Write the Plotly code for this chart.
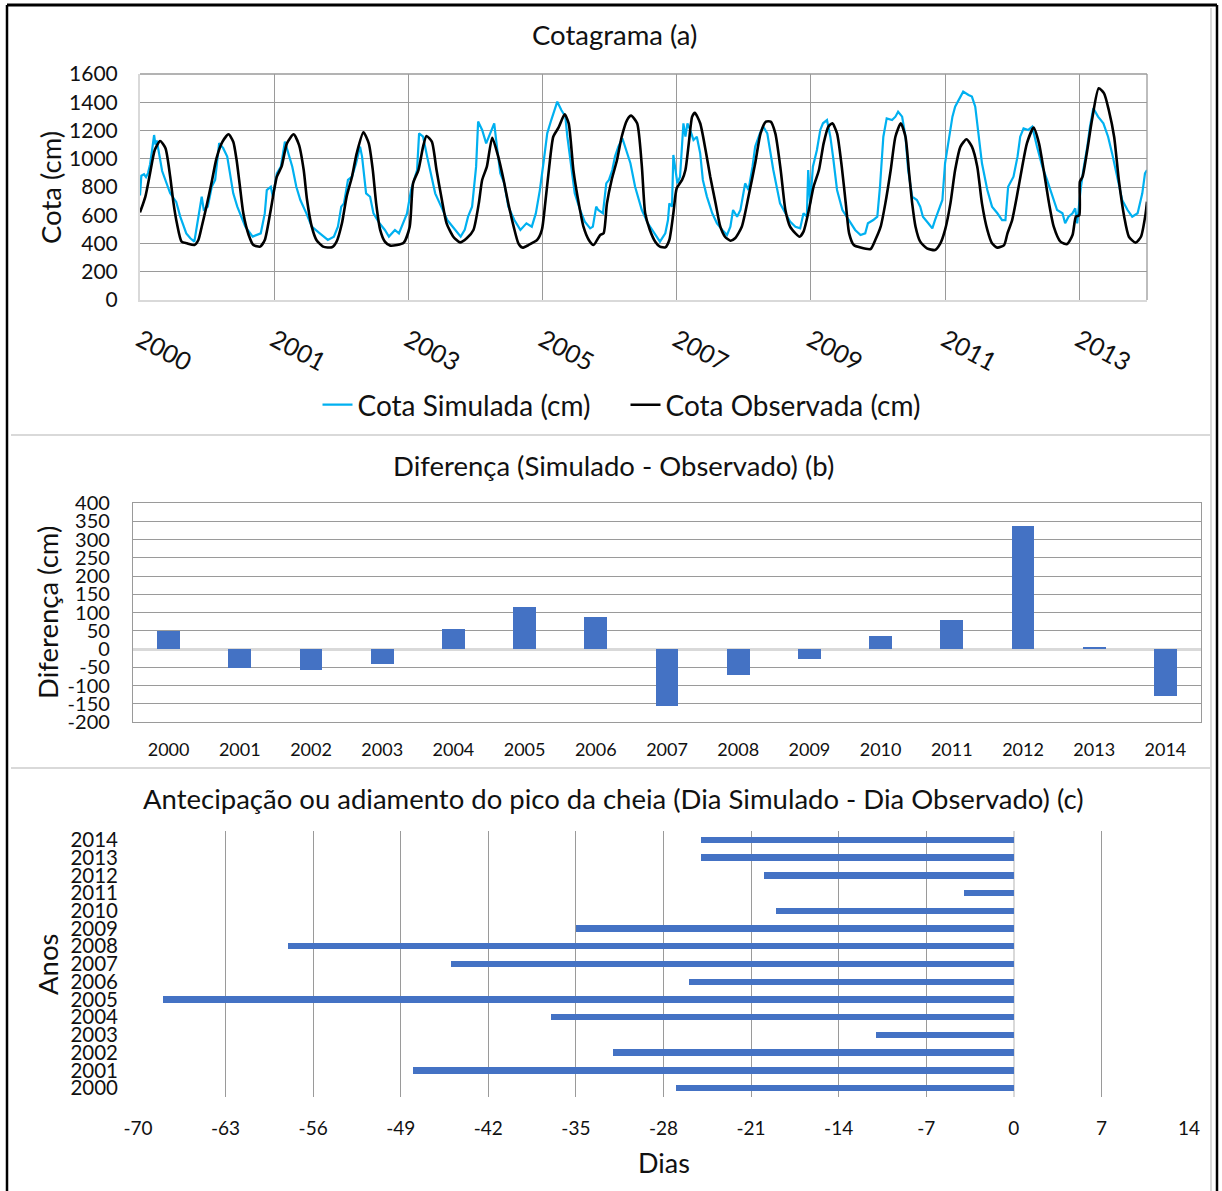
import plotly.graph_objects as go

# ---------------- DATA ----------------
# Panel (a): time in years since start of record (gridlines every 2 years)
x_tickvals_a = [0, 2, 4, 6, 8, 10, 12, 14]
x_ticktext_a = ["2000", "2001", "2003", "2005", "2007", "2009", "2011", "2013"]

t_sim = [0.00, 0.02, 0.06, 0.09, 0.12, 0.15, 0.18, 0.21, 0.23, 0.25, 0.33, 0.45, 0.54, 0.60, 0.69, 0.75, 0.81, 0.86, 0.92, 0.95,
         1.01, 1.07, 1.12, 1.18, 1.24, 1.30, 1.33, 1.39, 1.45, 1.57, 1.68, 1.80, 1.86, 1.89, 1.95, 1.98,
         2.04, 2.10, 2.16, 2.21, 2.27, 2.33, 2.39, 2.48, 2.56, 2.68, 2.80, 2.89, 2.95,
         3.00, 3.04, 3.10, 3.16, 3.22, 3.28, 3.31, 3.37, 3.43, 3.48, 3.57, 3.65, 3.71, 3.80, 3.86, 3.92, 3.98,
         4.04, 4.13, 4.16, 4.22, 4.28, 4.34, 4.40, 4.49, 4.58, 4.70, 4.78, 4.84, 4.89, 4.95,
         5.01, 5.04, 5.10, 5.16, 5.22, 5.28, 5.32, 5.37, 5.43, 5.49, 5.58, 5.67, 5.76, 5.84, 5.90, 5.96,
         6.02, 6.07, 6.13, 6.22, 6.28, 6.34, 6.37, 6.44, 6.48, 6.56, 6.63, 6.71, 6.75, 6.80, 6.83, 6.90, 6.95, 6.99,
         7.04, 7.08, 7.13, 7.19, 7.23, 7.31, 7.38, 7.48, 7.57, 7.68, 7.75, 7.83, 7.87, 7.89, 7.93, 7.95, 7.98,
         8.01, 8.05, 8.10, 8.13, 8.16, 8.20, 8.25, 8.30, 8.35, 8.39, 8.45, 8.53, 8.60, 8.68, 8.75, 8.80, 8.84, 8.90, 8.95,
         9.02, 9.07, 9.13, 9.17, 9.24, 9.29, 9.35, 9.39, 9.44, 9.50, 9.54, 9.62, 9.69, 9.77, 9.84, 9.89, 9.94, 9.96, 9.99,
         10.03, 10.09, 10.14, 10.18, 10.24, 10.29, 10.33, 10.39, 10.47, 10.56, 10.66, 10.74, 10.81, 10.85, 10.93, 10.99,
         11.03, 11.08, 11.13, 11.21, 11.26, 11.30, 11.36, 11.41, 11.45, 11.51, 11.58, 11.63, 11.67, 11.75, 11.81, 11.85, 11.90, 11.96,
         12.00, 12.05, 12.11, 12.15, 12.23, 12.27, 12.35, 12.40, 12.45, 12.49, 12.55, 12.63, 12.70, 12.78, 12.85, 12.90, 12.94,
         13.02, 13.08, 13.12, 13.17, 13.24, 13.30, 13.37, 13.45, 13.52, 13.60, 13.67, 13.75, 13.79, 13.84, 13.90, 13.94, 13.97,
         14.02, 14.06, 14.12, 14.16, 14.21, 14.28, 14.36, 14.43, 14.49, 14.57, 14.64, 14.72, 14.79, 14.87, 14.94, 14.98, 15.01]
cota_sim = [740, 880, 890, 870, 900, 960, 1060, 1168, 1100, 1130, 913, 755, 694, 590, 472, 437, 413, 566, 731, 640,
            661, 802, 850, 1110, 1075, 1015, 920, 755, 661, 519, 449, 472, 613, 778, 802, 731,
            897, 944, 1121, 1038, 944, 802, 708, 613, 519, 472, 425, 448, 519,
            661, 684, 850, 873, 967, 1086, 1015, 755, 731, 613, 543, 496, 449, 496, 472, 543, 613,
            778, 920, 1180, 1156, 1015, 873, 755, 661, 566, 496, 449, 496, 590, 661,
            944, 1263, 1204, 1109, 1180, 1251, 1086, 897, 826, 661, 566, 496, 543, 519, 613, 778,
            991, 1180, 1274, 1404, 1345, 1298, 1156, 920, 755, 637, 555, 507, 519, 661, 637, 614, 826, 850,
            920, 1015, 1086, 1145, 1086, 968, 802, 637, 543, 460, 413, 472, 566, 684, 661, 1027, 920,
            826, 873, 1251, 1156, 1251, 1204, 1133, 1156, 1038, 850, 732, 614, 543, 496, 460, 519, 637, 590, 637,
            826, 779, 944, 1086, 1180, 1227, 1180, 1062, 920, 779, 684, 614, 555, 519, 507, 614, 590, 920, 684,
            944, 1062, 1204, 1251, 1274, 1156, 1015, 779, 637, 566, 496, 460, 472, 543, 566, 590,
            802, 1156, 1286, 1274, 1298, 1333, 1298, 1156, 920, 732, 708, 661, 590, 543, 507, 566, 637, 708,
            968, 1133, 1298, 1369, 1440, 1475, 1451, 1440, 1369, 1204, 968, 779, 661, 614, 566, 566, 802,
            873, 1015, 1156, 1215, 1204, 1227, 1086, 944, 850, 732, 637, 614, 543, 590, 614, 649, 543,
            779, 920, 1086, 1227, 1357, 1298, 1251, 1156, 1038, 850, 708, 637, 590, 614, 755, 897, 920]

t_obs = [0.00, 0.08, 0.15, 0.22, 0.30, 0.38, 0.45, 0.50, 0.55, 0.62, 0.70, 0.81, 0.87, 0.92, 0.99,
         1.07, 1.14, 1.23, 1.32, 1.39, 1.44, 1.49, 1.54, 1.62, 1.69, 1.79, 1.86, 1.94,
         2.04, 2.11, 2.19, 2.29, 2.37, 2.44, 2.49, 2.56, 2.63, 2.73, 2.86, 2.93,
         3.01, 3.08, 3.16, 3.23, 3.33, 3.41, 3.47, 3.52, 3.58, 3.65, 3.73, 3.93,
         4.02, 4.07, 4.15, 4.22, 4.27, 4.35, 4.42, 4.50, 4.57, 4.67, 4.77, 4.87, 4.97,
         5.05, 5.10, 5.17, 5.25, 5.34, 5.42, 5.49, 5.57, 5.64, 5.70, 5.79, 5.92, 5.99,
         6.04, 6.10, 6.16, 6.24, 6.33, 6.39, 6.46, 6.54, 6.61, 6.69, 6.76, 6.86, 6.91, 6.96,
         7.03, 7.11, 7.18, 7.26, 7.32, 7.41, 7.48, 7.53, 7.60, 7.68, 7.75, 7.83, 7.89, 7.95,
         8.00, 8.08, 8.13, 8.18, 8.23, 8.27, 8.35, 8.43, 8.50, 8.58, 8.65, 8.72, 8.80, 8.87, 8.97,
         9.07, 9.17, 9.25, 9.33, 9.40, 9.47, 9.55, 9.62, 9.69, 9.77, 9.83, 9.89, 9.97,
         10.04, 10.12, 10.19, 10.26, 10.32, 10.39, 10.46, 10.52, 10.57, 10.64, 10.74, 10.89, 10.96,
         11.04, 11.11, 11.19, 11.26, 11.34, 11.41, 11.46, 11.51, 11.56, 11.63, 11.73, 11.85, 11.93,
         12.00, 12.08, 12.15, 12.23, 12.32, 12.40, 12.48, 12.55, 12.63, 12.70, 12.78, 12.88, 12.93,
         13.00, 13.07, 13.15, 13.22, 13.32, 13.40, 13.47, 13.55, 13.62, 13.72, 13.82, 13.90, 13.95,
         14.00, 14.01, 14.05, 14.12, 14.19, 14.29, 14.37, 14.44, 14.52, 14.59, 14.67, 14.74, 14.84, 14.92, 14.99, 15.01]
cota_obs = [620, 732, 897, 1062, 1126, 1074, 873, 684, 543, 413, 401, 389, 425, 519, 661,
            838, 1003, 1121, 1173, 1121, 991, 802, 614, 460, 389, 378, 425, 614,
            873, 944, 1109, 1173, 1098, 920, 708, 519, 425, 378, 373, 413,
            543, 732, 873, 1038, 1187, 1109, 920, 684, 496, 413, 385, 406,
            519, 826, 920, 1086, 1161, 1121, 920, 708, 543, 448, 408, 437, 496,
            684, 850, 944, 1149, 1015, 850, 684, 519, 401, 371, 389, 425, 496,
            684, 944, 1156, 1222, 1314, 1251, 920, 684, 519, 425, 389, 460, 472, 684,
            850, 991, 1156, 1274, 1305, 1251, 950, 614, 496, 413, 378, 373, 425, 614,
            791, 850, 920, 1109, 1298, 1326, 1251, 1062, 873, 684, 519, 448, 420, 437, 519,
            732, 968, 1180, 1263, 1263, 1180, 920, 637, 519, 472, 448, 484, 637,
            802, 920, 1109, 1227, 1251, 1180, 944, 684, 472, 389, 371, 361, 425,
            519, 684, 920, 1156, 1251, 1156, 920, 684, 519, 413, 366, 354, 401,
            496, 684, 920, 1086, 1138, 1086, 944, 684, 496, 401, 371, 389, 472,
            566, 732, 944, 1109, 1220, 1109, 920, 684, 519, 413, 396, 460, 590,
            600, 838, 873, 1062, 1274, 1499, 1463, 1345, 1156, 850, 590, 448, 406, 448, 614, 696]

# Panel (b)
anos_b = ["2000", "2001", "2002", "2003", "2004", "2005", "2006", "2007",
          "2008", "2009", "2010", "2011", "2012", "2013", "2014"]
diferenca_cm = [48, -52, -58, -41, 56, 116, 88, -156, -71, -27, 35, 80, 336, 6, -130]
y_ticks_b = [-200, -150, -100, -50, 0, 50, 100, 150, 200, 250, 300, 350, 400]

# Panel (c)
anos_c = ["2000", "2001", "2002", "2003", "2004", "2005", "2006", "2007",
          "2008", "2009", "2010", "2011", "2012", "2013", "2014"]
dias = [-27, -48, -32, -11, -37, -68, -26, -45, -58, -35, -19, -4, -20, -25, -25]
x_ticks_c = [-70, -63, -56, -49, -42, -35, -28, -21, -14, -7, 0, 7, 14]

# ---------------- STYLE / LAYOUT ----------------
W, H = 1222, 1191
FONT = "Lato"
GRID = "#9a9a9a"
LIGHT = "#d9d9d9"
TXT = "#111"


def X(px):
    return px / W


def Y(py):
    return 1 - py / H


fig = go.Figure()

fig.add_trace(go.Scatter(x=t_sim, y=cota_sim, mode="lines", name="Cota Simulada (cm)",
                         line=dict(color="#00B0F0", width=2.2), xaxis="x", yaxis="y"))
fig.add_trace(go.Scatter(x=t_obs, y=cota_obs, mode="lines", name="Cota Observada (cm)",
                         line=dict(color="black", width=2.6, shape="spline", smoothing=0.6),
                         xaxis="x", yaxis="y"))
fig.add_trace(go.Bar(x=anos_b, y=diferenca_cm, marker=dict(color="#4472C4", line=dict(width=0)),
                     width=0.32, showlegend=False, xaxis="x2", yaxis="y2"))
fig.add_trace(go.Bar(x=dias, y=anos_c, orientation="h", marker=dict(color="#4472C4", line=dict(width=0)),
                     width=0.36, showlegend=False, xaxis="x3", yaxis="y3"))

fig.update_layout(
    width=W, height=H,
    margin=dict(l=0, r=0, t=0, b=0),
    paper_bgcolor="white", plot_bgcolor="white",
    font=dict(family=FONT, color=TXT),
    showlegend=True,
    legend=dict(orientation="h", x=X(625.5), xanchor="center", y=Y(405), yanchor="middle",
                font=dict(family=FONT, size=28, color=TXT), itemwidth=30,
                entrywidth=263, entrywidthmode="pixels",
                bgcolor="rgba(0,0,0,0)"),
    # Panel (a)
    xaxis=dict(domain=[X(140), X(1147)], range=[0, 15.01], anchor="y",
               tickmode="array", tickvals=x_tickvals_a, ticktext=x_ticktext_a, tickangle=28,
               tickfont=dict(family=FONT, size=25, color=TXT), ticklabelstandoff=14,
               showgrid=True, gridcolor=GRID, gridwidth=1.3,
               showline=True, linecolor=LIGHT, linewidth=2, mirror=False,
               zeroline=False, automargin=False),
    yaxis=dict(domain=[Y(300), Y(74)], range=[0, 1600], dtick=200, anchor="x",
               tickfont=dict(family=FONT, size=21, color=TXT), ticklabelstandoff=16,
               showgrid=True, gridcolor=GRID, gridwidth=1.3,
               showline=True, linecolor=LIGHT, linewidth=2,
               zeroline=False, automargin=False),
    # Panel (b)
    xaxis2=dict(domain=[X(133), X(1201)], anchor="y2", type="category",
                tickmode="array", tickvals=anos_b, ticktext=anos_b,
                tickfont=dict(family=FONT, size=18, color=TXT), ticklabelstandoff=11,
                showgrid=False, showline=True, linecolor=GRID, linewidth=1.3, mirror=True,
                zeroline=False, automargin=False),
    yaxis2=dict(domain=[Y(722), Y(503)], range=[-200, 400], anchor="x2",
                tickmode="array", tickvals=y_ticks_b, ticktext=[str(v) for v in y_ticks_b],
                tickfont=dict(family=FONT, size=20, color=TXT), ticklabelstandoff=18,
                showgrid=True, gridcolor=GRID, gridwidth=1.3,
                showline=True, linecolor=GRID, linewidth=1.3, mirror=True,
                zeroline=True, zerolinecolor=LIGHT, zerolinewidth=2.5, automargin=False),
    # Panel (c)
    xaxis3=dict(domain=[X(138), X(1189)], range=[-70, 14], anchor="y3",
                tickmode="array", tickvals=x_ticks_c, ticktext=[str(v) for v in x_ticks_c],
                tickfont=dict(family=FONT, size=19, color=TXT), ticklabelstandoff=18,
                showgrid=True, gridcolor=GRID, gridwidth=1.3,
                showline=False, zeroline=True, zerolinecolor=LIGHT, zerolinewidth=1.5,
                automargin=False),
    yaxis3=dict(domain=[Y(1097), Y(831)], anchor="x3", type="category",
                categoryorder="array", categoryarray=anos_c,
                tickmode="array", tickvals=anos_c, ticktext=anos_c,
                tickfont=dict(family=FONT, size=20.5, color=TXT), ticklabelstandoff=19,
                showgrid=False, showline=False, zeroline=False, automargin=False),
    bargap=0,
)

ann = [
    dict(text="Cotagrama (a)", x=X(614), y=Y(35)),
    dict(text="Diferença (Simulado - Observado) (b)", x=X(613), y=Y(465)),
    dict(text="Antecipação ou adiamento do pico da cheia (Dia Simulado - Dia Observado) (c)",
         x=X(613), y=Y(798)),
]
for a in ann:
    fig.add_annotation(text=a["text"], x=a["x"], y=a["y"], xref="paper", yref="paper",
                       showarrow=False, xanchor="center", yanchor="middle",
                       font=dict(family=FONT, size=27.5, color=TXT))

fig.add_annotation(text="Dias", x=X(664), y=Y(1162), xref="paper", yref="paper",
                   showarrow=False, xanchor="center", yanchor="middle",
                   font=dict(family=FONT, size=27, color=TXT))

for txt, px, py in [("Cota (cm)", 50, 188), ("Diferença (cm)", 47, 613), ("Anos", 47, 965)]:
    fig.add_annotation(text=txt, x=X(px), y=Y(py), xref="paper", yref="paper",
                       showarrow=False, textangle=-90, xanchor="center", yanchor="middle",
                       font=dict(family=FONT, size=27.5, color=TXT))

# frames
P = dict(xref="paper", yref="paper")
shapes = [
    dict(type="line", x0=X(7), x1=X(7), y0=0, y1=Y(5), line=dict(color="black", width=2.5), **P),
    dict(type="line", x0=X(7), x1=X(1217), y0=Y(5), y1=Y(5), line=dict(color="black", width=3), **P),
    dict(type="line", x0=X(1217), x1=X(1217), y0=0, y1=Y(5), line=dict(color="black", width=2.5), **P),
    dict(type="line", x0=X(11), x1=X(1211), y0=Y(435), y1=Y(435), line=dict(color=LIGHT, width=2), **P),
    dict(type="line", x0=X(11), x1=X(1211), y0=Y(768), y1=Y(768), line=dict(color=LIGHT, width=2), **P),
    dict(type="line", x0=X(1211), x1=X(1211), y0=0, y1=Y(8), line=dict(color=LIGHT, width=2), **P),
    dict(type="line", x0=X(1147), x1=X(1147), y0=Y(300), y1=Y(74), line=dict(color=GRID, width=1.3), **P),
    dict(type="line", x0=X(140), x1=X(1147), y0=Y(74), y1=Y(74), line=dict(color=GRID, width=1.3), **P),
]
fig.update_layout(shapes=shapes)

fig.write_html("out.html", config={"displayModeBar": False},
               post_script="document.body.style.margin='0';")
